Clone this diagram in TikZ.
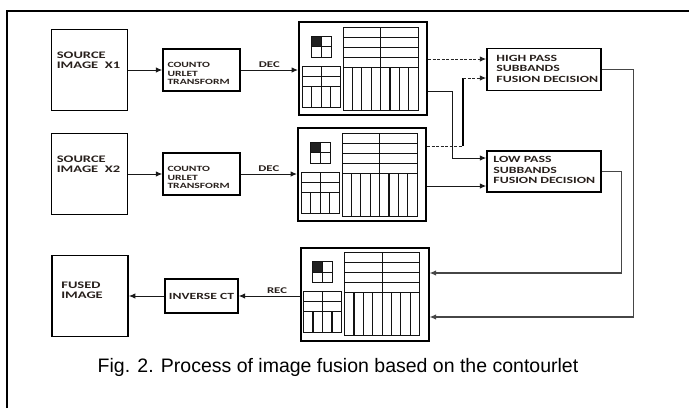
\documentclass[tikz,border=0pt]{standalone}
\usepackage{fontspec}
\setmainfont{Liberation Sans}
\newfontfamily\boxfont[FakeStretch=1.45]{Carlito}
\usepackage{xcolor}
\usepackage{tikz}
\usetikzlibrary{arrows.meta,positioning,calc}

\definecolor{txtdark}{RGB}{40,32,28}

\tikzset{
  band/.style={line width=0.9pt,gray!15!black},
  subgrid/.pic={
    % coarsest level
    \fill[gray!25!black] (13,15) rectangle (23,25.5);
    \draw[band] (13,15) rectangle (33,36);
    \draw[band] (23,15) -- (23,36) (13,25.5) -- (33,25.5);
    % second level
    \draw[band] (4,45) rectangle (42,86);
    \foreach \y in {55,65} \draw[band] (4,\y) -- (42,\y);
    \draw[band] (23,45) -- (23,86);
    \foreach \x in {13.5,32.5} \draw[band,line width=1.2pt] (\x,65) -- (\x,86);
    % finest level
    \draw[band] (45,6) rectangle (120,89);
    \foreach \y in {16,26,36,46} \draw[band] (45,\y) -- (120,\y);
    \draw[band] (82.5,6) -- (82.5,89);
    \foreach \x in {54.4,63.8,73.1,91.9,101.3,110.6} \draw[band,line width=1.2pt] (\x,46) -- (\x,89);
  }
}

\begin{document}
\begin{tikzpicture}[x=1pt,y=-1pt,>={Latex[length=6.5pt,width=5.5pt]},
  srcbox/.style={draw,line width=1.7pt,minimum width=76pt,minimum height=81pt,inner sep=0pt},
  ctbox/.style={draw,line width=1.4pt,minimum width=77pt,minimum height=42pt,inner sep=0pt},
  decbox/.style={draw,line width=2pt,minimum width=128pt,minimum height=93pt,inner sep=0pt},
  fusebox/.style={draw,line width=1.5pt,minimum width=114pt,minimum height=42pt,inner sep=0pt},
  boxtxt/.style={inner sep=0pt,align=left,text=txtdark,font={\boxfont\bfseries\fontsize{10}{10}\selectfont}},
  cttxt/.style={boxtxt,font={\boxfont\bfseries\fontsize{8}{8.5}\selectfont}},
  fdtxt/.style={boxtxt,font={\boxfont\bfseries\fontsize{9.5}{10.5}\selectfont}},
  dectxt/.style={inner sep=1pt,text=txtdark,font={\boxfont\bfseries\fontsize{8.8}{9}\selectfont}},
  flow/.style={line width=1pt,gray!20!black},
  hpass/.style={line width=1pt,gray!30!black,dash pattern=on 3pt off 1.5pt},
  back/.style={line width=1.3pt,gray!55!black},
  frame/.style={line width=1.3pt,black}]

  \useasboundingbox (0,0) rectangle (689,408);
  \draw[frame] (7,408) -- (7,11) -- (689,11);

  % inputs
  \node[srcbox,label={[boxtxt,anchor=north west,xshift=6pt,yshift=-23pt]north west:{SOURCE\\IMAGE\ \ X1}}] (src1) at (89.5,70) {};
  \node[srcbox,label={[boxtxt,anchor=north west,xshift=6pt,yshift=-23pt]north west:{SOURCE\\IMAGE\ \ X2}}] (src2) at (89.5,174) {};
  \node[ctbox,label={[cttxt,anchor=north west,xshift=5pt,yshift=-14pt]north west:{COUNTO\\URLET\\TRANSFORM}}] (ct1) at (201.5,70) {};
  \node[ctbox,label={[cttxt,anchor=north west,xshift=5pt,yshift=-14pt]north west:{COUNTO\\URLET\\TRANSFORM}}] (ct2) at (201.5,174) {};

  % decompositions
  \node[decbox] (dec1) at (363,68.5) {};
  \node[decbox] (dec2) at (362,174.5) {};
  \node[decbox] (rec) at (364.5,294) {};
  \pic at (dec1.north west) {subgrid};
  \pic at (dec2.north west) {subgrid};
  \pic at (rec.north west) {subgrid};

  % fusion rules
  \node[fusebox,label={[fdtxt,anchor=north west,xshift=10pt,yshift=-7pt]north west:{HIGH PASS\\SUBBANDS\\FUSION DECISION}}] (high) at (544,69.5) {};
  \node[fusebox,minimum height=41pt,label={[fdtxt,anchor=north west,xshift=7pt,yshift=-6pt]north west:{LOW PASS\\SUBBANDS\\FUSION DECISION}}] (low) at (544,171.5) {};

  % output
  \node[srcbox,label={[boxtxt,anchor=north west,xshift=10pt,yshift=-27pt]north west:{FUSED\\IMAGE}}] (fused) at (90,296) {};
  \node[ctbox,minimum width=73pt,minimum height=34pt,boxtxt,font={\boxfont\bfseries\fontsize{9.4}{10}\selectfont}] (inv) at (201.5,296) {INVERSE CT};

  \coordinate (hiA) at ($(high.west)+(0,-10.5)$);
  \coordinate (hiB) at ($(high.west)+(0,8.5)$);
  \coordinate (loA) at ($(low.west)+(0,-13.5)$);
  \coordinate (loB) at ($(low.west)+(0,14.5)$);
  \coordinate (d1o) at ($(dec1.east)+(0,22.5)$);
  \coordinate (jn) at (463,146);
  \coordinate (recA) at ($(rec.east)+(0,-21)$);
  \coordinate (recB) at ($(rec.east)+(0,23)$);

  \draw[flow,->] (src1.east |- ct1.west) -- (ct1.west);
  \draw[flow,->] (src2.east |- ct2.west) -- (ct2.west);
  \draw[flow,->] (ct1.east) -- (ct1.east -| dec1.west) node[midway,above=1pt,dectxt] {DEC};
  \draw[flow,->] (ct2.east) -- (ct2.east -| dec2.west) node[midway,above=1pt,dectxt] {DEC};

  \draw[hpass,->] (dec1.east |- hiA) -- (hiA);
  \draw[hpass] (dec2.east |- jn) -- (jn);
  \draw[line width=1.6pt] (jn) -- (jn |- hiB);
  \draw[hpass,->] (jn |- hiB) -- (hiB);
  \draw[flow,->] (d1o) -- ++(24,0) |- (loA);
  \draw[flow,->] (dec2.east |- loB) -- (loB);

  \draw[back,->] (high.east) -- ++(32,0) |- (recB);
  \draw[back,->] (low.east) -- ++(20,0) |- (recA);

  \draw[flow,->] (rec.west |- inv.east) -- (inv.east) node[pos=0.37,above=1pt,dectxt] {REC};
  \draw[flow,->] (inv.west) -- (fused.east);

  \node[anchor=base,font=\fontsize{19.5}{20}\selectfont] (cap) at (338,372) {Fig. 2. Process of image fusion based on the contourlet};
\end{tikzpicture}
\end{document}
